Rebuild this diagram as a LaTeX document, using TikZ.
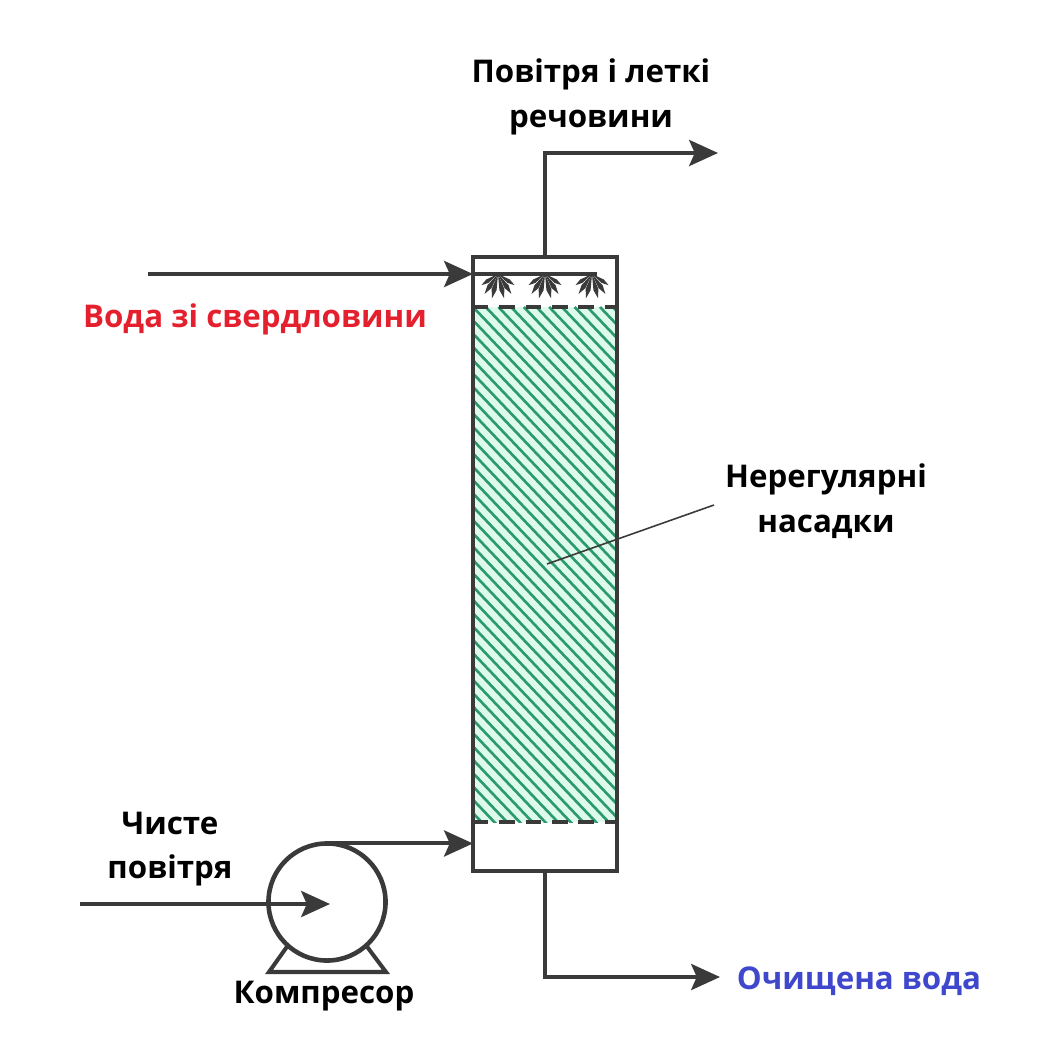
\documentclass[tikz,border=0pt]{standalone}
\usepackage{fontspec}
\setmainfont{Open Sans}
\usetikzlibrary{arrows.meta}
\definecolor{pipegray}{HTML}{3A3A3A}
\definecolor{packgreen}{HTML}{2B9A6C}
\definecolor{packmint}{HTML}{DDFAEC}
\definecolor{inred}{HTML}{E5202E}
\definecolor{outblue}{HTML}{3F48CC}
\tikzset{
	pipe/.style={line width=1.15pt,pipegray},
	flow/.style={pipe,-{Stealth[length=8.2pt,width=7.4pt,inset=1.6pt]}},
	shell/.style={draw=pipegray,line width=1.3pt,outer sep=0pt},
	grid line/.style={line width=1.05pt,pipegray,dash pattern=on 4.4pt off 3.1pt},
	hatch/.style={line width=0.75pt,packgreen},
	lbl/.style={font=\fontsize{8.9}{12.7}\selectfont\bfseries,align=center,text=black,inner sep=0pt},
}
\begin{document}
\begin{tikzpicture}[x=0.01cm,y=-0.01cm]
	\useasboundingbox (0,0) rectangle (1058,1058);
	% packing
	\fill[packmint] (473,307) rectangle (617,822);
	\begin{scope}
		\clip (473,307) rectangle (617,822);
		\foreach \i in {-42,...,13}
			\draw[hatch] ({473+\i*12.7},307)--++(515,540);
	\end{scope}
	% column
	\node[shell,minimum width=1.44cm,minimum height=6.14cm] (column) at (545,564) {};
	\draw[grid line] (column.west |- 0,307)--(column.east |- 0,307);
	\draw[grid line] (column.west |- 0,822)--(column.east |- 0,822);
	% water in
	\coordinate (waterin) at (148,274);
	\coordinate (headerend) at (597,274);
	\draw[flow] (waterin)--(column.west |- waterin);
	\draw[pipe] (column.west |- waterin)--(headerend);
	\foreach \x in {498,545,592}{
		\foreach \a/\l in {76/25,104/25,56/24,124/24,34/20,146/20}
			\fill[pipegray,shift={(\x,274)}] (0,0)--({\a-9}:{.65*\l})--(\a:\l)--({\a+9}:{.65*\l})--cycle;
	}
	% air and volatiles out
	\coordinate (topbend) at (column.north |- 0,153);
	\coordinate (topend) at (718,153);
	\draw[flow] (column.north)--(topbend)--(topend);
	% treated water out
	\coordinate (botbend) at (column.south |- 0,977);
	\coordinate (botend) at (720,977);
	\draw[flow] (column.south)--(botbend)--(botend);
	% compressor
	\node[shell,circle,minimum size=1.17cm] (comp) at (327,902) {};
	\coordinate (baseleft) at (269,972);
	\coordinate (baseright) at (386,972);
	\draw[pipe,line join=miter] (comp.228)--(baseleft)--(baseright)--(comp.312);
	\draw[flow] (comp.north)--(comp.north -| column.west);
	\coordinate (airin) at (80,904);
	\coordinate (airtip) at (330,904);
	\draw[flow] (airin)--(airtip);
	% labels
	\node[lbl] (volatile) at (591,97) {Повітря і леткі\\речовини};
	\node[lbl,text=inred] (water) at (255,319) {Вода зі свердловини};
	\node[lbl] (packing) at (826,501) {Нерегулярні\\насадки};
	\node[lbl] (air) at (170,849) {Чисте\\повітря};
	\node[lbl] (complbl) at (324,996) {Компресор};
	\node[lbl,text=outblue] (clean) at (859,981) {Очищена вода};
	\coordinate (leaderin) at (547,564);
	\coordinate (leaderout) at (714,505);
	\draw[line width=0.45pt,pipegray] (leaderin)--(leaderout);
\end{tikzpicture}
\end{document}
